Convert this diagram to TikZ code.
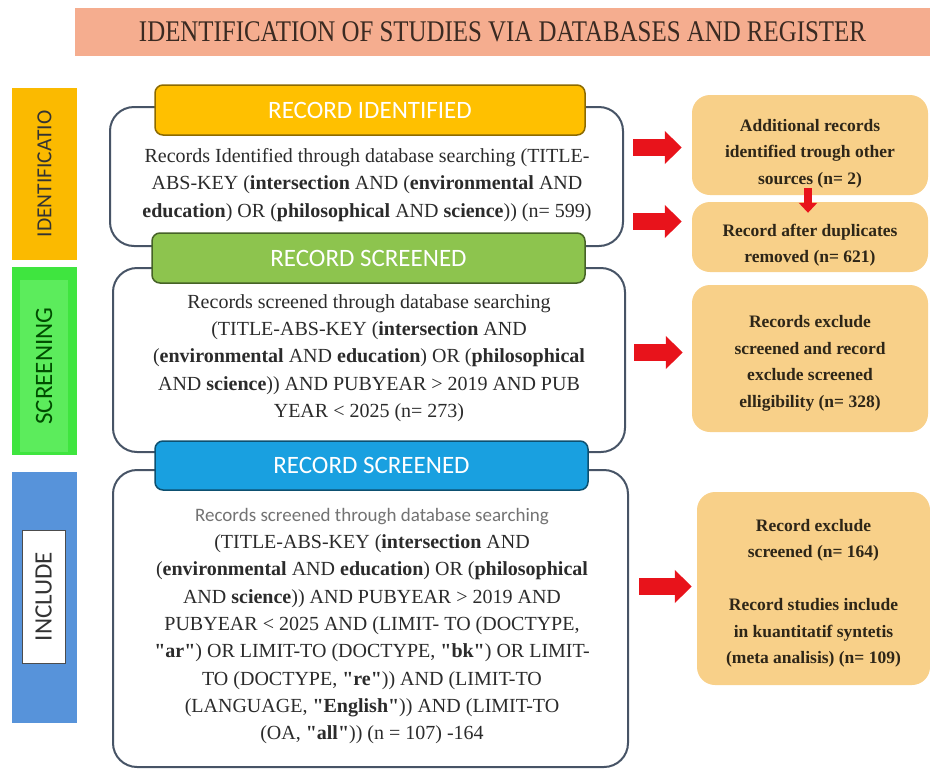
\documentclass[tikz,border=0pt]{standalone}
\usepackage{fontspec}
\setmainfont{Liberation Serif}
\newfontfamily\rawserif{Liberation Serif}
\newfontfamily\headfont{Carlito}
\usepackage{graphicx}
\usetikzlibrary{arrows.meta, positioning}
\definecolor{titlesalmon}{HTML}{F5AD8F}
\definecolor{titletext}{HTML}{3A2A22}
\definecolor{idorange}{HTML}{FBBA00}
\definecolor{scrgreen}{HTML}{3FE53F}
\definecolor{scrinner}{HTML}{5CEC5C}
\definecolor{incblue}{HTML}{5793DA}
\definecolor{boxedge}{HTML}{475466}
\definecolor{bodytext}{HTML}{2B2B2B}
\definecolor{hdyellow}{HTML}{FFC000}
\definecolor{hdgreen}{HTML}{8DC44E}
\definecolor{hdblue}{HTML}{19A0E0}
\definecolor{outpeach}{HTML}{F8D089}
\definecolor{outtext}{HTML}{2E2618}
\definecolor{arrowred}{HTML}{E8131B}
\newcommand{\dq}[1]{{\rawserif\bfseries "#1"}}

\begin{document}
\begin{tikzpicture}[
    x=1pt, y=-1pt,
    mainbox/.style={draw=boxedge, line width=2pt, rounded corners=24pt, fill=white, inner sep=0pt},
    header/.style={rounded corners=8pt, line width=1.5pt, inner sep=0pt, minimum height=50pt,
        font=\headfont\fontsize{25}{28}\selectfont, text=white},
    bodytxt/.style={align=center, text=bodytext, font=\fontsize{20}{27.3}\selectfont, inner sep=0pt},
    sidebar/.style={rotate=90, inner sep=0pt, minimum height=65pt, font=\headfont},
    outbox/.style={fill=outpeach, rounded corners=18pt, inner sep=0pt, align=center,
        text=outtext, font=\bfseries\fontsize{17.5}{26.5}\selectfont},
    fatarrow/.style={draw=arrowred, line width=17pt, -{Triangle[length=17pt, width=32pt]}},
    droparrow/.style={draw=arrowred, line width=8pt, -{Triangle[length=10pt, width=18pt]}},
]
\useasboundingbox (0,0) rectangle (930,769);

% Title
\node[fill=titlesalmon, minimum width=855pt, minimum height=48pt, inner sep=0pt, text=titletext] (title) at (502.5, 32)
    {\scalebox{0.83}[1]{\fontsize{30}{32}\selectfont IDENTIFICATION OF STUDIES VIA DATABASES AND REGISTER}};

% Side bars
\node[sidebar, fill=idorange, minimum width=172pt, text=black!80, font=\headfont\fontsize{21.5}{24}\selectfont] (idbar) at (44.5, 174) {IDENTIFICATIO};
\node[sidebar, fill=scrgreen, minimum width=188pt] (scrbar) at (44.5, 361) {};
\node[sidebar, fill=scrinner, minimum width=172pt, minimum height=48pt, text=green!30!black, font=\headfont\fontsize{25}{28}\selectfont] (scrlabel) at (44, 366) {SCREENING};
\node[sidebar, fill=incblue, minimum width=251pt] (incbar) at (44.5, 597.5) {};
\node[sidebar, fill=white, draw=black!70, line width=1pt, minimum width=133pt, minimum height=43pt, text=black!80, font=\headfont\fontsize{25}{28}\selectfont] (inclabel) at (43.5, 596.5) {INCLUDE};

% Main boxes
\node[mainbox, minimum width=513pt, minimum height=139pt] (box1) at (366.5, 176.5) {};
\node[mainbox, minimum width=512pt, minimum height=184pt] (box2) at (369, 360) {};
\node[mainbox, minimum width=515pt, minimum height=297pt] (box3) at (370.5, 618.5) {};

% Headers
\node[header, fill=hdyellow, draw=hdyellow!55!black, minimum width=430pt] (hd1) at (370, 110) {RECORD IDENTIFIED};
\node[header, fill=hdgreen, draw=hdgreen!50!black, minimum width=433pt] (hd2) at (368.5, 258) {RECORD SCREENED};
\node[header, fill=hdblue, draw=hdblue!50!black, minimum width=433pt, minimum height=49pt] (hd3) at (371.5, 465.5) {RECORD SCREENED};

% Box texts
\node[bodytxt] (txt1) at (367, 185) {Records Identified through database searching (TITLE-\\
    ABS-KEY (\textbf{intersection} AND (\textbf{environmental} AND\\
    \textbf{education}) OR (\textbf{philosophical} AND \textbf{science})) (n= 599)};
\node[bodytxt] (txt2) at (369, 358) {Records screened through database searching\\
    (TITLE-ABS-KEY (\textbf{intersection} AND\\
    (\textbf{environmental} AND \textbf{education}) OR (\textbf{philosophical}\\
    AND \textbf{science})) AND PUBYEAR > 2019 AND PUB\\
    YEAR < 2025 (n= 273)};
\node[bodytxt] (txt3) at (372, 626) {{\headfont\fontsize{19}{27.3}\selectfont\color{black!55}Records screened through database searching}\\
    (TITLE-ABS-KEY (\textbf{intersection} AND\\
    (\textbf{environmental} AND \textbf{education}) OR (\textbf{philosophical}\\
    AND \textbf{science})) AND PUBYEAR > 2019 AND\\
    PUBYEAR < 2025 AND (LIMIT- TO (DOCTYPE,\\
    \dq{ar}) OR LIMIT-TO (DOCTYPE, \dq{bk}) OR LIMIT-\\
    TO (DOCTYPE, \dq{re})) AND (LIMIT-TO\\
    (LANGUAGE, \dq{English})) AND (LIMIT-TO\\
    (OA, \dq{all})) (n = 107) -164};

% Right boxes
\node[outbox, minimum width=236pt, minimum height=100pt] (add) at (810, 145) {\rule{0pt}{29pt}Additional records\\identified trough other\\sources (n= 2)};
\node[outbox, minimum width=236pt, minimum height=70pt] (dup) at (810, 237) {\rule{0pt}{29pt}Record after duplicates\\removed (n= 621)};
\node[outbox, minimum width=236pt, minimum height=147pt] (excl) at (810, 358.5) {\rule{0pt}{22pt}Records exclude\\screened and record\\exclude screened\\elligibility (n= 328)};
\node[outbox, minimum width=233pt, minimum height=193pt] (incl) at (813.5, 588.5) {\rule{0pt}{22pt}Record exclude\\screened (n= 164)\\[26.5pt]Record studies include\\in kuantitatif syntetis\\(meta analisis) (n= 109)};

% Arrows
\draw[fatarrow, shorten <=9pt, shorten >=10pt] ([yshift=-2.5pt]add.west -| box1.east) -- ([yshift=-2.5pt]add.west);
\draw[fatarrow, shorten <=9pt, shorten >=10pt] ([yshift=15.5pt]dup.west -| box1.east) -- ([yshift=15.5pt]dup.west);
\draw[fatarrow, shorten <=8pt, shorten >=9pt] ([yshift=6pt]excl.west -| box2.east) -- ([yshift=6pt]excl.west);
\draw[fatarrow, shorten <=10pt, shorten >=5pt] ([yshift=2pt]incl.west -| box3.east) -- ([yshift=2pt]incl.west);
\draw[droparrow] ([xshift=-2pt, yshift=7pt]add.south) -- ([xshift=-2pt, yshift=-11pt]dup.north);

\end{tikzpicture}
\end{document}
